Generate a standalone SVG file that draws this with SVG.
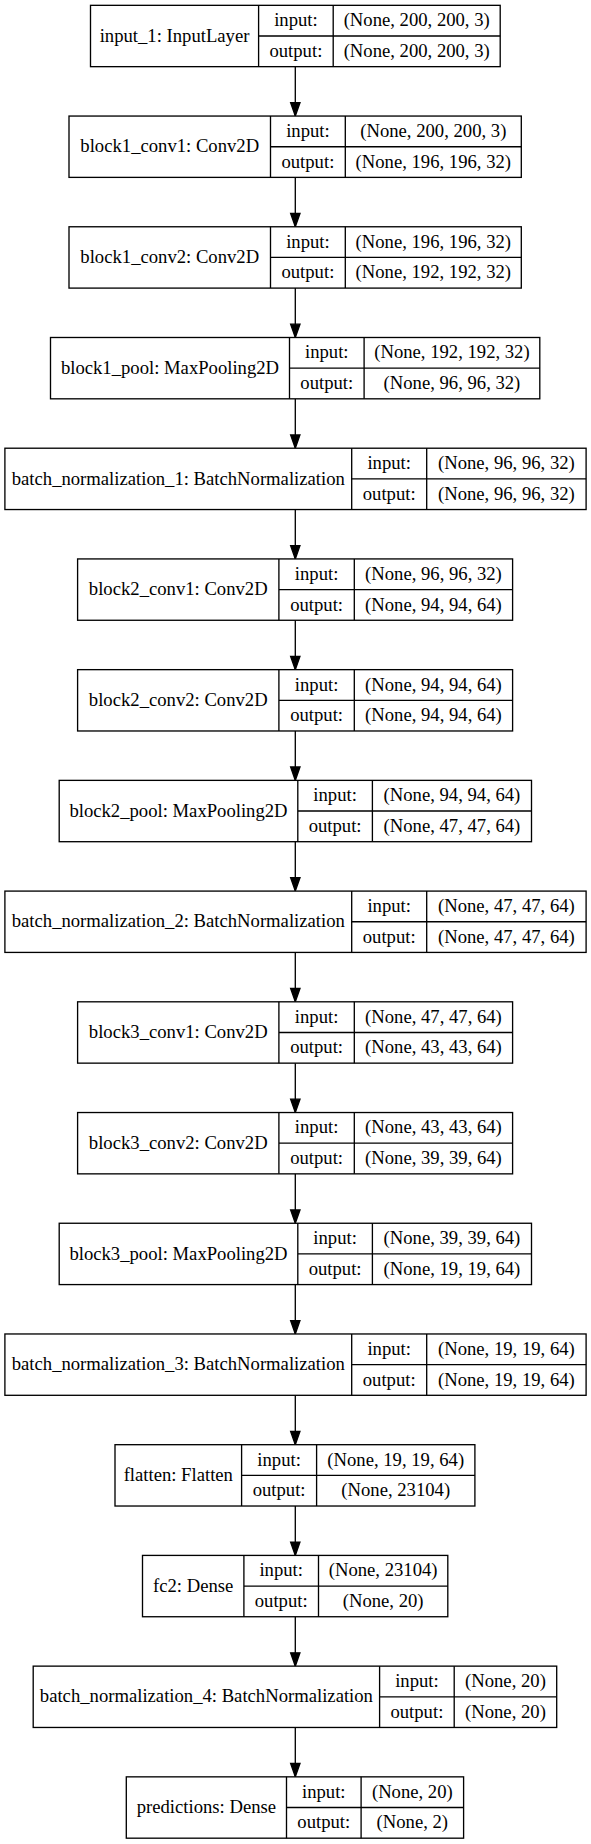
<svg xmlns="http://www.w3.org/2000/svg" width="591" height="1844" viewBox="0 0 591 1844" font-family="'Liberation Serif', 'Times New Roman', Times, 'DejaVu Serif', serif">
<style>
.bg{fill:#fff}
.box{fill:#fff;stroke:#000;stroke-width:1.33}
.ln{stroke:#000;stroke-width:1.33;fill:none}
text{font-family:'Liberation Serif','Times New Roman',Times,'DejaVu Serif',serif;font-size:18.67px;fill:#000;text-anchor:middle}
.edge{stroke:#000;stroke-width:1.33;fill:none}
</style>
<defs>
<marker id="arr" markerUnits="userSpaceOnUse" viewBox="-1 -1 15.33 11.33" refX="13.33" refY="4.67" markerWidth="15.33" markerHeight="11.33" orient="auto" overflow="visible">
<path d="M0,0 L13.33,4.67 L0,9.33 Z" fill="#000" stroke="#000" stroke-width="1.33"/>
</marker>
</defs>
<rect class="bg" x="0" y="0" width="591" height="1844"/>

<g id="connectors">
<path class="edge" marker-end="url(#arr)" d="M295.3,66.66 V116.05"/>
<path class="edge" marker-end="url(#arr)" d="M295.3,177.38 V226.77"/>
<path class="edge" marker-end="url(#arr)" d="M295.3,288.1 V337.49"/>
<path class="edge" marker-end="url(#arr)" d="M295.3,398.82 V448.21"/>
<path class="edge" marker-end="url(#arr)" d="M295.3,509.54 V558.93"/>
<path class="edge" marker-end="url(#arr)" d="M295.3,620.26 V669.65"/>
<path class="edge" marker-end="url(#arr)" d="M295.3,730.98 V780.37"/>
<path class="edge" marker-end="url(#arr)" d="M295.3,841.7 V891.09"/>
<path class="edge" marker-end="url(#arr)" d="M295.3,952.42 V1001.81"/>
<path class="edge" marker-end="url(#arr)" d="M295.3,1063.14 V1112.53"/>
<path class="edge" marker-end="url(#arr)" d="M295.3,1173.86 V1223.25"/>
<path class="edge" marker-end="url(#arr)" d="M295.3,1284.58 V1333.97"/>
<path class="edge" marker-end="url(#arr)" d="M295.3,1395.3 V1444.69"/>
<path class="edge" marker-end="url(#arr)" d="M295.3,1506.02 V1555.41"/>
<path class="edge" marker-end="url(#arr)" d="M295.3,1616.74 V1666.13"/>
<path class="edge" marker-end="url(#arr)" d="M295.3,1727.46 V1776.85"/>
</g>

<g id="input_1" transform="translate(0,5.33)">
<rect class="box" x="90.5" y="0" width="409.7" height="61.33"/>
<path class="ln" d="M258.6,0 V61.33 M333.2,0 V61.33 M258.6,30.67 H500.2"/>
<text x="174.55" y="36.3">input_1: InputLayer</text>
<text x="295.9" y="20.9">input:</text>
<text x="295.9" y="51.6">output:</text>
<text x="416.7" y="20.9">(None, 200, 200, 3)</text>
<text x="416.7" y="51.6">(None, 200, 200, 3)</text>
</g>

<g id="block1_conv1" transform="translate(0,116.05)">
<rect class="box" x="69" y="0" width="452.3" height="61.33"/>
<path class="ln" d="M270.5,0 V61.33 M345.3,0 V61.33 M270.5,30.67 H521.3"/>
<text x="169.75" y="36.3">block1_conv1: Conv2D</text>
<text x="307.9" y="20.9">input:</text>
<text x="307.9" y="51.6">output:</text>
<text x="433.3" y="20.9">(None, 200, 200, 3)</text>
<text x="433.3" y="51.6">(None, 196, 196, 32)</text>
</g>

<g id="block1_conv2" transform="translate(0,226.77)">
<rect class="box" x="69" y="0" width="452.3" height="61.33"/>
<path class="ln" d="M270.5,0 V61.33 M345.3,0 V61.33 M270.5,30.67 H521.3"/>
<text x="169.75" y="36.3">block1_conv2: Conv2D</text>
<text x="307.9" y="20.9">input:</text>
<text x="307.9" y="51.6">output:</text>
<text x="433.3" y="20.9">(None, 196, 196, 32)</text>
<text x="433.3" y="51.6">(None, 192, 192, 32)</text>
</g>

<g id="block1_pool" transform="translate(0,337.49)">
<rect class="box" x="50.5" y="0" width="489.3" height="61.33"/>
<path class="ln" d="M289.5,0 V61.33 M364.1,0 V61.33 M289.5,30.67 H539.8"/>
<text x="170" y="36.3">block1_pool: MaxPooling2D</text>
<text x="326.8" y="20.9">input:</text>
<text x="326.8" y="51.6">output:</text>
<text x="451.95" y="20.9">(None, 192, 192, 32)</text>
<text x="451.95" y="51.6">(None, 96, 96, 32)</text>
</g>

<g id="batch_normalization_1" transform="translate(0,448.21)">
<rect class="box" x="4.9" y="0" width="581.2" height="61.33"/>
<path class="ln" d="M351.7,0 V61.33 M426.7,0 V61.33 M351.7,30.67 H586.1"/>
<text x="178.3" y="36.3">batch_normalization_1: BatchNormalization</text>
<text x="389.2" y="20.9">input:</text>
<text x="389.2" y="51.6">output:</text>
<text x="506.4" y="20.9">(None, 96, 96, 32)</text>
<text x="506.4" y="51.6">(None, 96, 96, 32)</text>
</g>

<g id="block2_conv1" transform="translate(0,558.93)">
<rect class="box" x="77.6" y="0" width="435" height="61.33"/>
<path class="ln" d="M278.9,0 V61.33 M354.3,0 V61.33 M278.9,30.67 H512.6"/>
<text x="178.25" y="36.3">block2_conv1: Conv2D</text>
<text x="316.6" y="20.9">input:</text>
<text x="316.6" y="51.6">output:</text>
<text x="433.45" y="20.9">(None, 96, 96, 32)</text>
<text x="433.45" y="51.6">(None, 94, 94, 64)</text>
</g>

<g id="block2_conv2" transform="translate(0,669.65)">
<rect class="box" x="77.6" y="0" width="435" height="61.33"/>
<path class="ln" d="M278.9,0 V61.33 M354.3,0 V61.33 M278.9,30.67 H512.6"/>
<text x="178.25" y="36.3">block2_conv2: Conv2D</text>
<text x="316.6" y="20.9">input:</text>
<text x="316.6" y="51.6">output:</text>
<text x="433.45" y="20.9">(None, 94, 94, 64)</text>
<text x="433.45" y="51.6">(None, 94, 94, 64)</text>
</g>

<g id="block2_pool" transform="translate(0,780.37)">
<rect class="box" x="59.2" y="0" width="472.3" height="61.33"/>
<path class="ln" d="M297.8,0 V61.33 M372.4,0 V61.33 M297.8,30.67 H531.5"/>
<text x="178.5" y="36.3">block2_pool: MaxPooling2D</text>
<text x="335.1" y="20.9">input:</text>
<text x="335.1" y="51.6">output:</text>
<text x="451.95" y="20.9">(None, 94, 94, 64)</text>
<text x="451.95" y="51.6">(None, 47, 47, 64)</text>
</g>

<g id="batch_normalization_2" transform="translate(0,891.09)">
<rect class="box" x="4.9" y="0" width="581.2" height="61.33"/>
<path class="ln" d="M351.7,0 V61.33 M426.7,0 V61.33 M351.7,30.67 H586.1"/>
<text x="178.3" y="36.3">batch_normalization_2: BatchNormalization</text>
<text x="389.2" y="20.9">input:</text>
<text x="389.2" y="51.6">output:</text>
<text x="506.4" y="20.9">(None, 47, 47, 64)</text>
<text x="506.4" y="51.6">(None, 47, 47, 64)</text>
</g>

<g id="block3_conv1" transform="translate(0,1001.81)">
<rect class="box" x="77.6" y="0" width="435" height="61.33"/>
<path class="ln" d="M278.9,0 V61.33 M354.3,0 V61.33 M278.9,30.67 H512.6"/>
<text x="178.25" y="36.3">block3_conv1: Conv2D</text>
<text x="316.6" y="20.9">input:</text>
<text x="316.6" y="51.6">output:</text>
<text x="433.45" y="20.9">(None, 47, 47, 64)</text>
<text x="433.45" y="51.6">(None, 43, 43, 64)</text>
</g>

<g id="block3_conv2" transform="translate(0,1112.53)">
<rect class="box" x="77.6" y="0" width="435" height="61.33"/>
<path class="ln" d="M278.9,0 V61.33 M354.3,0 V61.33 M278.9,30.67 H512.6"/>
<text x="178.25" y="36.3">block3_conv2: Conv2D</text>
<text x="316.6" y="20.9">input:</text>
<text x="316.6" y="51.6">output:</text>
<text x="433.45" y="20.9">(None, 43, 43, 64)</text>
<text x="433.45" y="51.6">(None, 39, 39, 64)</text>
</g>

<g id="block3_pool" transform="translate(0,1223.25)">
<rect class="box" x="59.2" y="0" width="472.3" height="61.33"/>
<path class="ln" d="M297.8,0 V61.33 M372.4,0 V61.33 M297.8,30.67 H531.5"/>
<text x="178.5" y="36.3">block3_pool: MaxPooling2D</text>
<text x="335.1" y="20.9">input:</text>
<text x="335.1" y="51.6">output:</text>
<text x="451.95" y="20.9">(None, 39, 39, 64)</text>
<text x="451.95" y="51.6">(None, 19, 19, 64)</text>
</g>

<g id="batch_normalization_3" transform="translate(0,1333.97)">
<rect class="box" x="4.9" y="0" width="581.2" height="61.33"/>
<path class="ln" d="M351.7,0 V61.33 M426.7,0 V61.33 M351.7,30.67 H586.1"/>
<text x="178.3" y="36.3">batch_normalization_3: BatchNormalization</text>
<text x="389.2" y="20.9">input:</text>
<text x="389.2" y="51.6">output:</text>
<text x="506.4" y="20.9">(None, 19, 19, 64)</text>
<text x="506.4" y="51.6">(None, 19, 19, 64)</text>
</g>

<g id="flatten" transform="translate(0,1444.69)">
<rect class="box" x="115" y="0" width="359.9" height="61.33"/>
<path class="ln" d="M241.6,0 V61.33 M316.6,0 V61.33 M241.6,30.67 H474.9"/>
<text x="178.3" y="36.3">flatten: Flatten</text>
<text x="279.1" y="20.9">input:</text>
<text x="279.1" y="51.6">output:</text>
<text x="395.75" y="20.9">(None, 19, 19, 64)</text>
<text x="395.75" y="51.6">(None, 23104)</text>
</g>

<g id="fc2" transform="translate(0,1555.41)">
<rect class="box" x="142.5" y="0" width="305.3" height="61.33"/>
<path class="ln" d="M243.9,0 V61.33 M318.5,0 V61.33 M243.9,30.67 H447.8"/>
<text x="193.2" y="36.3">fc2: Dense</text>
<text x="281.2" y="20.9">input:</text>
<text x="281.2" y="51.6">output:</text>
<text x="383.15" y="20.9">(None, 23104)</text>
<text x="383.15" y="51.6">(None, 20)</text>
</g>

<g id="batch_normalization_4" transform="translate(0,1666.13)">
<rect class="box" x="33.2" y="0" width="523.5" height="61.33"/>
<path class="ln" d="M379.6,0 V61.33 M454.2,0 V61.33 M379.6,30.67 H556.7"/>
<text x="206.4" y="36.3">batch_normalization_4: BatchNormalization</text>
<text x="416.9" y="20.9">input:</text>
<text x="416.9" y="51.6">output:</text>
<text x="505.45" y="20.9">(None, 20)</text>
<text x="505.45" y="51.6">(None, 20)</text>
</g>

<g id="predictions" transform="translate(0,1776.85)">
<rect class="box" x="126.3" y="0" width="337.3" height="61.33"/>
<path class="ln" d="M286.5,0 V61.33 M361.1,0 V61.33 M286.5,30.67 H463.6"/>
<text x="206.4" y="36.3">predictions: Dense</text>
<text x="323.8" y="20.9">input:</text>
<text x="323.8" y="51.6">output:</text>
<text x="412.35" y="20.9">(None, 20)</text>
<text x="412.35" y="51.6">(None, 2)</text>
</g>
</svg>
